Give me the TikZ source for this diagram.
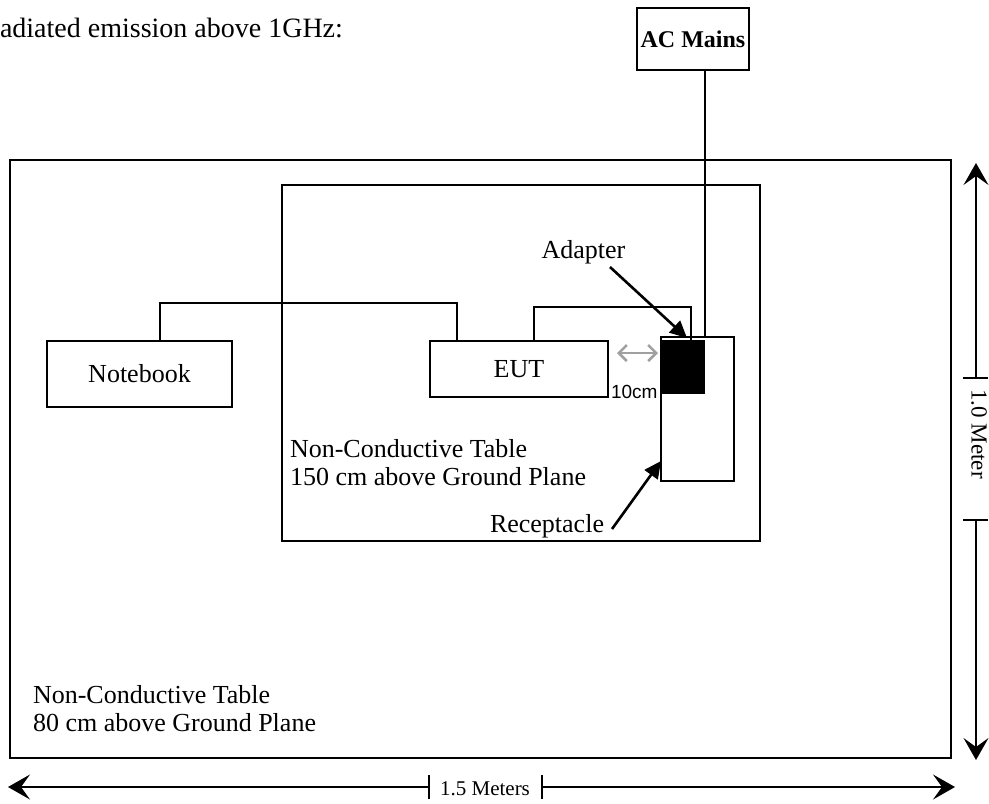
\documentclass[tikz,border=0pt]{standalone}
\usepackage{fontspec}
\setmainfont{Liberation Serif}
\newfontfamily\arialf{Liberation Sans}
\usetikzlibrary{arrows.meta}
\definecolor{dimgray}{RGB}{160,160,160}
\newcommand\bodyf{\fontsize{26pt}{28pt}\selectfont}
\newcommand\titlef{\fontsize{28pt}{32pt}\selectfont}
\newcommand\acf{\bfseries\fontsize{24pt}{28pt}\selectfont}
\newcommand\dimf{\fontsize{21pt}{24pt}\selectfont}
\newcommand\vdimf{\fontsize{23pt}{26pt}\selectfont}
\newcommand\tencmf{\arialf\fontsize{19pt}{22pt}\selectfont}
\begin{document}
\begin{tikzpicture}[x=1pt,y=-1pt,
  every node/.style={inner sep=0pt, outer sep=0pt},
  boxwh/.style 2 args={draw, line width=1.6pt, anchor=north west, minimum width=#1, minimum height=#2},
  cable/.style={line width=1.3pt},
  ptr/.style={line width=2.6pt, -{Triangle[length=17pt,width=16pt]}},
  dimline/.style={line width=1.3pt, -{Stealth[length=22pt,width=25pt,inset=9pt]}},
  tick/.style={line width=1.3pt},
  gap/.style={line width=2.5pt, dimgray, {Straight Barb[length=8pt,width=16pt]}-{Straight Barb[length=8pt,width=16pt]}},
  body/.style={font=\bodyf},
]
\useasboundingbox (0,0) rectangle (989,804);

% title
\node[anchor=base west, font=\titlef] (title) at (0,37) {adiated emission above 1GHz:};

% tables
\node[boxwh={941pt}{598pt}, line width=2.7pt] (outer) at (10,160) {};
\node[boxwh={478pt}{356pt}] (inner) at (282,185) {};

% table texts
\node[anchor=north west, align=left, body] (t150) at (290,439) {Non-Conductive Table\\150 cm above Ground Plane};
\node[anchor=north west, align=left, body] (t80) at (33,685) {Non-Conductive Table\\80 cm above Ground Plane};

% 10cm label
\node[anchor=base west, font=\tencmf] (tencm) at (611,398) {10cm};

% devices
\node[boxwh={185pt}{66pt}, body] (nb) at (47,341) {Notebook};
\node[boxwh={178pt}{56pt}, body] (eut) at (430,341) {EUT};
\node[boxwh={73pt}{144pt}] (recp) at (661,337) {};
\node[boxwh={43pt}{53pt}, fill=black, line width=0.8pt] (adp) at (661,340) {};
\node[boxwh={112pt}{62pt}, font=\acf] (ac) at (637,8) {AC Mains};

% cables
\coordinate (acx) at (705,0);
\draw[cable] (ac.south -| acx) -- (recp.north -| acx);
\coordinate (nbj) at (160,303);
\coordinate (eutj) at (457,303);
\draw[cable] (nb.north -| nbj) -- (nbj) -- (eutj) -- (eut.north -| eutj);
\coordinate (eutk) at (534,307);
\coordinate (adk) at (691,307);
\draw[cable] (eut.north -| eutk) -- (eutk) -- (adk) -- (adp.north -| adk);

% 10 cm gap arrow
\coordinate (gy) at (0,353);
\draw[gap, shorten <=9pt, shorten >=3pt] (eut.east |- gy) -- (adp.west |- gy);

% adapter label
\node[anchor=base, body] (albl) at (583.5,258) {Adapter};
\coordinate (adtail) at (610,267);
\coordinate (adhead) at (687,338);
\draw[ptr] (adtail) -- (adhead);

% receptacle label
\node[anchor=base west, body] (rlbl) at (490,532) {Receptacle};
\coordinate (rtail) at (612,529);
\coordinate (rhead) at (661,461);
\draw[ptr] (rtail) -- (rhead);

% horizontal dimension
\coordinate (hL) at (8,787);
\coordinate (hR) at (955,787);
\coordinate (hA) at (429,787);
\coordinate (hB) at (542,787);
\draw[dimline] (hA) -- (hL);
\draw[dimline] (hB) -- (hR);
\draw[tick] ([yshift=-12pt]hA) -- ([yshift=12pt]hA);
\draw[tick] ([yshift=-12pt]hB) -- ([yshift=12pt]hB);
\node[anchor=base, font=\dimf] (hlbl) at (485,795) {1.5 Meters};

% vertical dimension
\coordinate (vT) at (976,163);
\coordinate (vBt) at (976,760);
\coordinate (vA) at (976,378);
\coordinate (vB) at (976,520);
\draw[dimline] (vA) -- (vT);
\draw[dimline] (vB) -- (vBt);
\draw[tick] ([xshift=-13pt]vA) -- ([xshift=12pt]vA);
\draw[tick] ([xshift=-13pt]vB) -- ([xshift=12pt]vB);
\node[rotate=-90, font=\vdimf] (vlbl) at (979,434) {1.0 Meter};
\end{tikzpicture}
\end{document}
